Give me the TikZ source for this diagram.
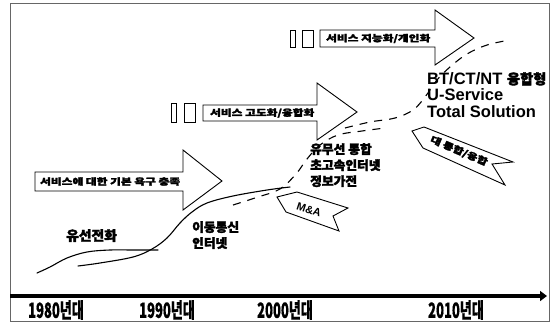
\documentclass[tikz,border=0pt]{standalone}
\usepackage{fontspec}
\setmainfont{Liberation Sans}
\newfontfamily\kr{Noto Sans CJK KR}[FakeBold=0.6]
\newfontfamily\krb{Noto Sans CJK KR}[FakeBold=2.5]
\usetikzlibrary{arrows.meta}
\newcommand\arrtext[1]{\scalebox{1.3}[1]{#1}}
\newcommand\yrtext[1]{\scalebox{0.62}[1]{#1}}
\newcommand\krl[1]{\scalebox{1.02}[1]{#1}}
\begin{document}
\begin{tikzpicture}[x=1pt,y=-1pt,
  blockarrow/.style={draw=black, line width=0.9pt, fill=white, line join=miter},
  sbox/.style={draw=black, line width=0.8pt, fill=white},
  curve/.style={line width=1.1pt, line cap=round},
  dcurve/.style={line width=1.1pt, dash pattern=on 8pt off 7pt},
  arrlbl/.style={font=\bfseries\krb\fontsize{9}{10}\selectfont, inner sep=0pt, anchor=west},
  krlbl/.style={font=\bfseries\krb\fontsize{12.5}{16}\selectfont, align=left, inner sep=0pt, anchor=north west},
  year/.style={font=\bfseries\kr\fontsize{21}{21}\selectfont, inner sep=0pt},
  flag/.style={draw=black, line width=0.9pt, fill=white, line join=miter},
  flaglbl/.style={font=\bfseries\krb\fontsize{9}{10}\selectfont, inner sep=0pt},
]
\useasboundingbox (0,0) rectangle (551,324);
% frame
\draw[black!60, line width=0.8pt] (10,3) rectangle (549,321);

% growth curves
\draw[curve] plot[smooth, tension=0.6] coordinates {(37,273) (50,267) (67,258) (87,252) (110,250) (133,250) (158,250)};
\draw[curve] plot[smooth, tension=0.6] coordinates {(78,266) (100,263) (133,257) (152,249) (167,238) (180,223) (192,212) (207,203) (233,196) (267,190) (290,187)};
\draw[dcurve] plot[smooth, tension=0.6] coordinates {(233,205) (258,197) (280,189) (296,174) (307,159) (320,145) (338,135) (362,131) (385,128)};
\draw[dcurve] plot[smooth, tension=0.6] coordinates {(345,128) (370,122) (395,118) (413,110) (425,97) (437,80) (450,67) (467,54) (487,45) (510,40)};

% block arrows
\draw[blockarrow] (35,172) -- (183,172) -- (183,150) -- (222,181) -- (183,210) -- (183,191) -- (35,191) -- cycle;
\node[arrlbl] (a1) at (40,181.5) {\arrtext{서비스에 대한 기본 욕구 충족}};

\draw[sbox] (171,103) rectangle (176,122);
\draw[sbox] (184,103) rectangle (195,122);
\draw[blockarrow] (203,105) -- (317,105) -- (317,83) -- (357,112) -- (317,140) -- (317,121) -- (203,121) -- cycle;
\node[arrlbl] (a2) at (210,113) {\arrtext{서비스 고도화/융합화}};

\draw[sbox] (290,30) rectangle (295,47);
\draw[sbox] (302,30) rectangle (313,47);
\draw[blockarrow] (320,30) -- (435,30) -- (435,10) -- (474,38) -- (435,65) -- (435,47) -- (320,47) -- cycle;
\node[arrlbl] (a3) at (326,38.5) {\arrtext{서비스 지능화/개인화}};

% flags
\draw[flag] (277,197) -- (297,192) -- (348,208) -- (333,216) -- (339,231) -- (286,212) -- cycle;
\node[font=\bfseries\fontsize{11}{12}\selectfont, inner sep=0pt, rotate=-18] (ma) at (309,210) {M\&A};
\draw[flag] (412,131) -- (424,127) -- (513,162) -- (492,164) -- (505,185) -- (423,148) -- cycle;
\node[flaglbl, rotate=-23] (fl) at (459,151) {\arrtext{대 통합/융합}};

% curve labels
\node[krlbl, font=\bfseries\krb\fontsize{13.5}{16}\selectfont] (l1) at (66,229) {\krl{유선전화}};
\node[krlbl] (l2) at (192,221) {\krl{이동통신}\\\krl{인터넷}};
\node[krlbl] (l3) at (310,143) {\krl{유무선 통합}\\\krl{초고속인터넷}\\\krl{정보가전}};
\node[font=\bfseries\fontsize{16.5}{16.5}\selectfont, align=left, inner sep=0pt, anchor=north west] (l4) at (427,72)
  {BT/CT/NT {\krb\fontsize{14}{16}\selectfont\krl{융합형}}\\U-Service\\Total Solution};

% timeline
\coordinate (t0) at (10,296);
\coordinate (t1) at (547,296);
\draw[line width=4.5pt, -{Triangle[length=7pt,width=10pt]}] (t0) -- (t1);
\node[year] (y1) at (56,310) {\yrtext{1980년대}};
\node[year] (y2) at (167,310) {\yrtext{1990년대}};
\node[year] (y3) at (285,310) {\yrtext{2000년대}};
\node[year] (y4) at (456,310) {\yrtext{2010년대}};
\end{tikzpicture}
\end{document}
